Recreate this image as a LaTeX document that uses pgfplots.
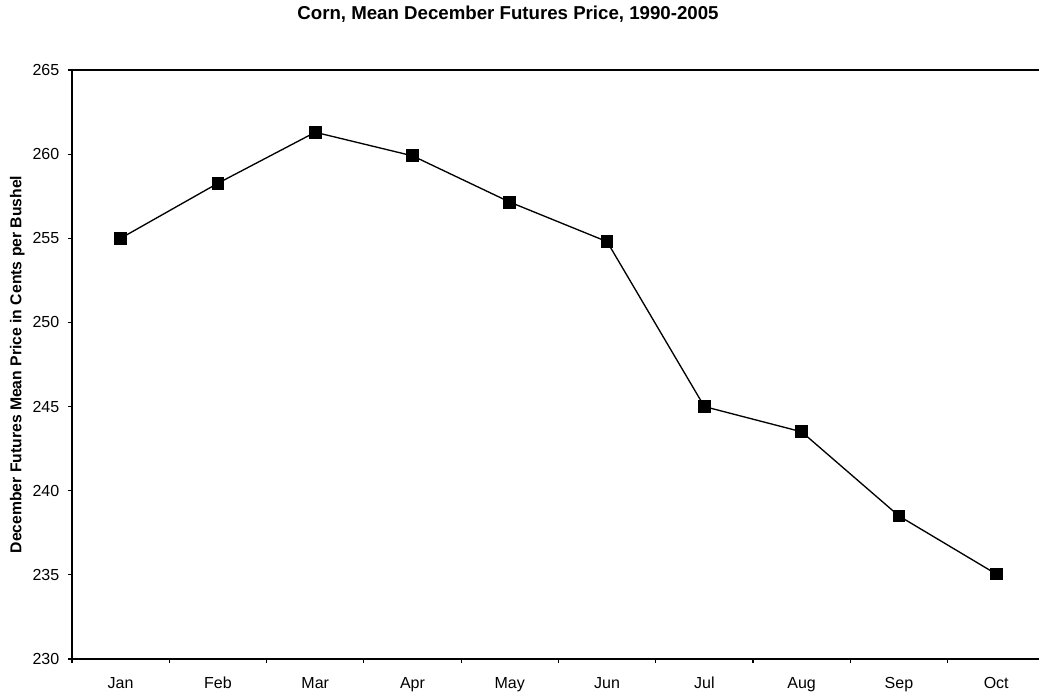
\documentclass[border=0pt]{standalone}
\usepackage{fontspec}
\setmainfont{Liberation Sans}
\usepackage{pgfplots}
\pgfplotsset{compat=1.18}

\begin{document}
\begin{tikzpicture}
\useasboundingbox (-54pt,-27.75pt) rectangle (725.25pt,494.25pt);
\begin{axis}[
  at={(0,0)}, anchor=south west,
  scale only axis, width=725.25pt, height=441.75pt,
  xmin=-0.5, xmax=9.44, ymin=230, ymax=265,
  axis x line*=bottom, axis y line*=left,
  axis line style={line width=0.9pt, -},
  xtick={0,...,9},
  xticklabels={Jan,Feb,Mar,Apr,May,Jun,Jul,Aug,Sep,Oct},
  minor xtick={-0.5,0.5,...,8.5},
  major x tick style={draw=none},
  minor tick length=3pt,
  ytick={230,235,...,265},
  major tick length=3pt,
  tick align=outside,
  tick style={black, line width=0.8pt},
  /pgf/number format/assume math mode=true,
  ticklabel style={font=\fontsize{12}{14}\selectfont},
  xticklabel style={yshift=-7pt},
  yticklabel style={xshift=-3pt},
  ylabel={December Futures Mean Price in Cents per Bushel},
  ylabel style={at={(axis description cs:0,0.5)}, anchor=center, yshift=41pt,
    font=\bfseries\fontsize{11.8}{13}\selectfont},
  clip=false,
]
\addplot[black, line width=1pt, mark=square*, mark size=4.3pt,
  mark options={solid, fill=black}] coordinates {
  (0,255.0) (1,258.27) (2,261.3) (3,259.9) (4,257.15)
  (5,254.8) (6,245.0) (7,243.5) (8,238.5) (9,235.05)
};
\draw[line width=0.9pt] (rel axis cs:0,1) -- (rel axis cs:1,1);
\end{axis}
\node[font=\bfseries\fontsize{14}{16}\selectfont] at (327pt,483.75pt)
  {Corn, Mean December Futures Price, 1990-2005};
\end{tikzpicture}
\end{document}
